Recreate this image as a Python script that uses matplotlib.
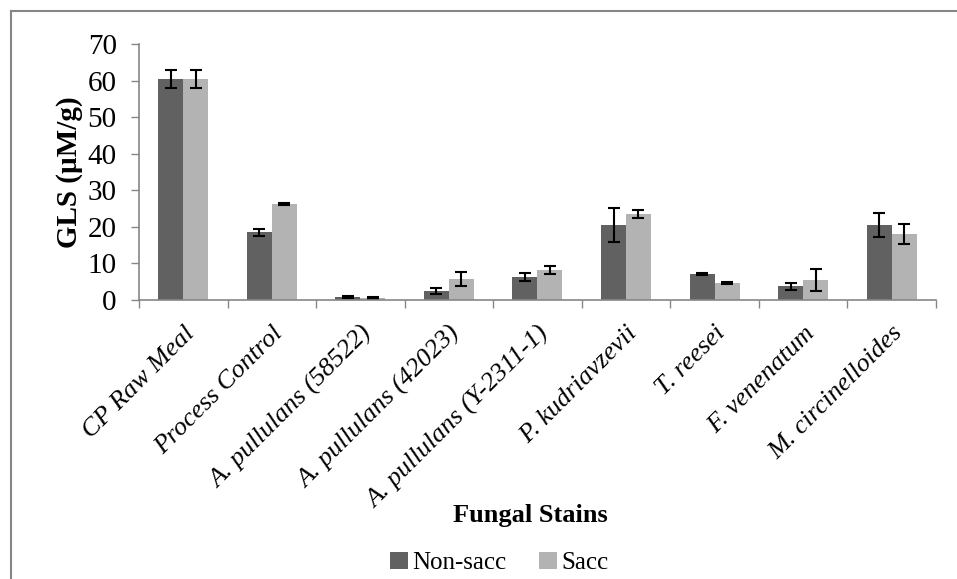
import matplotlib.pyplot as plt
import numpy as np
from matplotlib.patches import Patch
from matplotlib.lines import Line2D

plt.rcParams['font.family'] = ['Liberation Serif', 'DejaVu Serif']

strains = ["CP Raw Meal", "Process Control", "A. pullulans (58522)",
           "A. pullulans (42023)", "A. pullulans (Y-2311-1)", "P. kudriavzevii",
           "T. reesei", "F. venenatum", "M. circinelloides"]
non_sacc = [60.5, 18.5, 0.8, 2.5, 6.3, 20.5, 7.1, 3.8, 20.5]
non_sacc_err = [2.5, 1.0, 0.2, 0.9, 1.1, 4.7, 0.2, 0.95, 3.4]
sacc = [60.5, 26.2, 0.6, 5.7, 8.1, 23.5, 4.6, 5.5, 18.1]
sacc_err = [2.5, 0.2, 0.2, 1.9, 1.1, 1.2, 0.2, 3.0, 2.8]

dark = "#616161"
light = "#b3b3b3"
grey = "#868686"

fig = plt.figure(figsize=(9.57, 5.79), dpi=100)
ax = fig.add_axes([0.1452, 0.4819, 0.978 - 0.1452, 0.924 - 0.4819])

x = np.arange(len(strains))
w = 0.282
ekw = dict(ecolor="black", elinewidth=1.5, capsize=4, capthick=1.5)
ax.bar(x - w / 2, non_sacc, w, color=dark, yerr=non_sacc_err, error_kw=ekw)
ax.bar(x + w / 2, sacc, w, color=light, yerr=sacc_err, error_kw=ekw)

ax.set_xlim(-0.5, len(strains) - 0.5)
ax.set_ylim(0, 70)
ax.set_yticks(range(0, 71, 10))
ax.tick_params(axis="y", labelsize=21, direction="out", length=6, color=grey, width=1, pad=10)

ax.set_xticks(np.arange(-0.5, len(strains), 1.0))
ax.set_xticklabels([])
ax.tick_params(axis="x", which="major", direction="out", length=6, color=grey, width=1)
ax.set_xticks(x, minor=True)
ax.set_xticklabels(strains, minor=True, rotation=45, ha="right",
                   rotation_mode="anchor", fontsize=19, style="italic")
ax.tick_params(axis="x", which="minor", length=0, pad=16)

for s in ["top", "right"]:
    ax.spines[s].set_visible(False)
for s in ["left", "bottom"]:
    ax.spines[s].set_color(grey)
    ax.spines[s].set_linewidth(1.2)

ax.set_ylabel("GLS (\u00b5M/g)", fontsize=21, fontweight="bold", labelpad=3)

fig.text(0.554, 0.11, "Fungal Stains", ha="center", va="center",
         fontsize=19, fontweight="bold")

handles = [Patch(facecolor=dark, label="Non-sacc"), Patch(facecolor=light, label="Sacc")]
fig.legend(handles=handles, loc="center", bbox_to_anchor=(0.522, 0.028), ncol=2,
           frameon=False, fontsize=18, handlelength=0.7, handleheight=0.7,
           handletextpad=0.2, columnspacing=1.3, borderpad=0)

# outer chart frame (cut off at right and bottom)
fig.add_artist(Line2D([10.5 / 957, 1.0], [1 - 10.5 / 579] * 2,
                      transform=fig.transFigure, color=grey, lw=1.5))
fig.add_artist(Line2D([10.5 / 957] * 2, [0, 1 - 10.5 / 579],
                      transform=fig.transFigure, color=grey, lw=1.5))

fig.savefig("out.png", dpi=100)
